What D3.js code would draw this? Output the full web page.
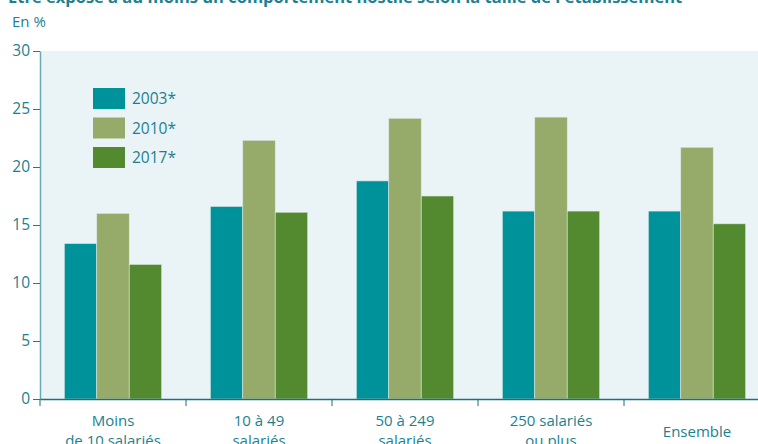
<!DOCTYPE html>
<html>
<head>
<meta charset="utf-8">
<script src="https://cdn.jsdelivr.net/npm/d3@7"></script>
<style>
  body { margin: 0; background: #fff; }
  svg text { font-family: "Open Sans", "Noto Sans", sans-serif; fill: #1b8190; }
</style>
</head>
<body>
<svg width="758" height="444"></svg>
<script>
// Data
const categories = [["Moins", "de 10 salariés"], ["10 à 49", "salariés"], ["50 à 249", "salariés"], ["250 salariés", "ou plus"], ["Ensemble"]];
const series = ["2003*", "2010*", "2017*"];
const v2003 = [13.4, 16.6, 18.8, 16.2, 16.2];
const v2010 = [16.0, 22.3, 24.2, 24.3, 21.7];
const v2017 = [11.6, 16.1, 17.5, 16.2, 15.1];
const yTicks = [0, 5, 10, 15, 20, 25, 30];
const colors = ["#00929a", "#96ab6a", "#548a2f"];

const values = [v2003, v2010, v2017];
const svg = d3.select("svg");

const plotL = 40, plotR = 770, plotT = 51, plotB = 399;

const x = d3.scaleBand().domain(d3.range(categories.length)).range([plotL, plotR]);
const xs = d3.scaleBand().domain(series).range([0, x.bandwidth()]).paddingInner(0).paddingOuter(0.75);
const y = d3.scaleLinear().domain([0, 30]).range([plotB, plotT]);

// title (cut off at top)
svg.append("text")
  .attr("x", 8).attr("y", 3)
  .attr("font-size", 16.5).attr("font-weight", "bold")
  .text("Être exposé à au moins un comportement hostile selon la taille de l'établissement");

svg.append("text")
  .attr("x", 12).attr("y", 27)
  .attr("font-size", 15)
  .text("En %");

// plot background
svg.append("rect")
  .attr("x", plotL).attr("y", plotT)
  .attr("width", plotR - plotL).attr("height", plotB - plotT)
  .attr("fill", "#eaf4f7");

// bars
series.forEach((s, i) => {
  svg.append("g")
    .selectAll("rect")
    .data(values[i])
    .join("rect")
      .attr("x", (d, j) => x(j) + xs(s))
      .attr("y", d => y(d))
      .attr("width", xs.bandwidth())
      .attr("height", d => plotB - y(d))
      .attr("fill", colors[i])
      .attr("stroke", "#d8e8e4")
      .attr("stroke-width", 0.6);
});

// y axis
const yAxis = svg.append("g")
  .attr("transform", `translate(${plotL},0)`)
  .call(d3.axisLeft(y).tickValues(yTicks).tickSize(7).tickSizeOuter(0));
yAxis.select(".domain").attr("stroke", "#6aaab5").attr("stroke-width", 1.5);
yAxis.selectAll(".tick line").attr("stroke", "#1b8190");
yAxis.selectAll(".tick text").attr("font-size", 15.5).attr("x", -10).style("fill", "#1b8190");

// x axis
const xAxis = svg.append("g")
  .attr("transform", `translate(0,${plotB})`)
  .call(d3.axisBottom(x).tickValues([]).tickSizeOuter(0));
xAxis.select(".domain").attr("stroke", "#1b6f7e").attr("stroke-width", 1.5);
xAxis.selectAll(".sep")
  .data(d3.range(categories.length + 1))
  .join("line")
    .attr("class", "sep")
    .attr("x1", i => plotL + i * x.step()).attr("x2", i => plotL + i * x.step())
    .attr("y1", 0).attr("y2", 7)
    .attr("stroke", "#1b6f7e");

// category labels
categories.forEach((lines, i) => {
  const cx = x(i) + x.bandwidth() / 2;
  const t = svg.append("text")
    .attr("text-anchor", "middle")
    .attr("font-size", 15)
    .attr("y", lines.length === 1 ? 437 : 426);
  lines.forEach((l, k) => {
    t.append("tspan").attr("x", cx).attr("dy", k === 0 ? 0 : 20).text(l);
  });
});

// legend
const legend = svg.append("g");
series.forEach((s, i) => {
  const ly = 88 + i * 29.5;
  legend.append("rect")
    .attr("x", 93).attr("y", ly)
    .attr("width", 32).attr("height", 21)
    .attr("fill", colors[i]);
  legend.append("text")
    .attr("x", 132).attr("y", ly + 16)
    .attr("font-size", 15.5)
    .text(s);
});
</script>
</body>
</html>
